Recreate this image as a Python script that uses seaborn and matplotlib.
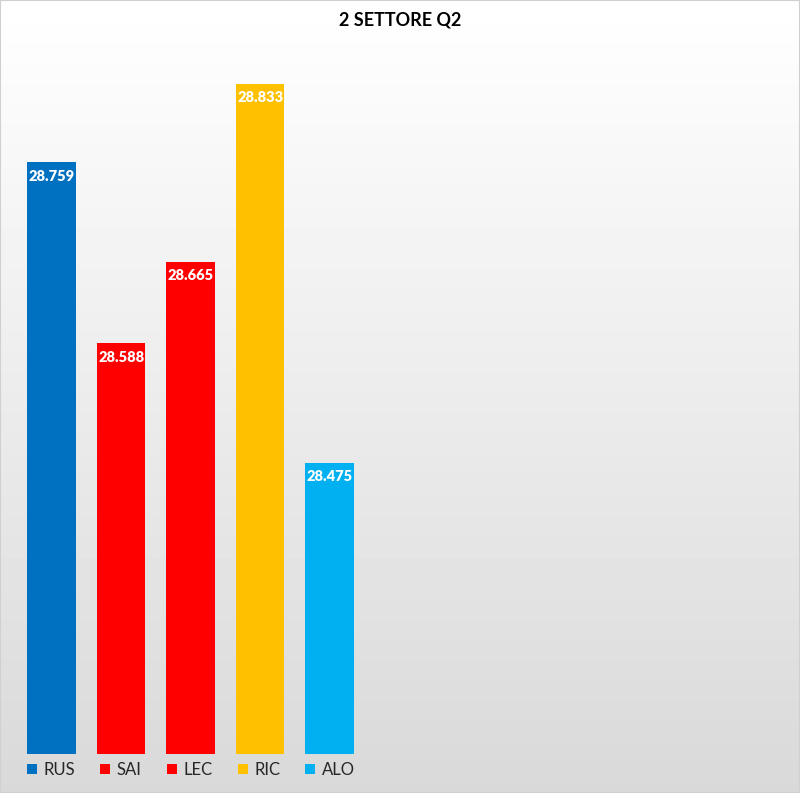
import matplotlib
matplotlib.use("Agg")
import matplotlib.pyplot as plt
import numpy as np
import pandas as pd
import seaborn as sns
from matplotlib.patches import Patch

drivers = ["RUS", "SAI", "LEC", "RIC", "ALO"]
times = [28.759, 28.588, 28.665, 28.833, 28.475]
colors = ["#0070C0", "#FF0000", "#FF0000", "#FFC000", "#00B0F0"]
title = "2 SETTORE Q2"

sns.set_theme(style="white")
plt.rcParams["font.family"] = ["Lato", "DejaVu Sans"]

df = pd.DataFrame({"driver": drivers, "time": times})

W, H = 800, 793
fig = plt.figure(figsize=(W / 100, H / 100), dpi=100)

# gradient background, white at the top to light grey at the bottom
bg = fig.add_axes([0, 0, 1, 1], zorder=-1)
grad = np.linspace(1.0, 0.85, 256).reshape(-1, 1)
bg.imshow(grad, cmap="gray", vmin=0, vmax=1, aspect="auto", extent=[0, 1, 0, 1])
bg.add_patch(plt.Rectangle((0, 0), 1, 1, fill=False, ec="#d0d0d0", lw=1.5,
                           transform=bg.transAxes))
bg.set_axis_off()

# axes in pixel coords: left 17, right 781, bottom 754, top 66
ax = fig.add_axes([17 / W, 1 - 754 / H, (781 - 17) / W, (754 - 66) / H])
ax.patch.set_alpha(0)
sns.barplot(data=df, x="driver", y="time", hue="driver", order=drivers,
            hue_order=drivers, palette=colors, width=0.7, legend=False,
            saturation=1, linewidth=0, ax=ax)
ax.set_xlim(-0.5, 10.5)
ax.set_ylim(28.2, 28.85)
ax.set_axis_off()

for i, v in enumerate(times):
    ax.annotate(f"{v:.3f}", (i, v), xytext=(0, -10), textcoords="offset points",
                ha="center", va="center", color="white", fontsize=10.5,
                fontweight="heavy")

fig.text(0.5, 1 - 20 / H, title, ha="center", va="center", fontsize=13,
         fontweight="bold", color="black")

handles = [Patch(facecolor=c, edgecolor="none") for c in colors]
fig.legend(handles, drivers, loc="center left",
           bbox_to_anchor=(27 / W, 1 - 770 / H), ncol=5, frameon=False,
           fontsize=12, handlelength=0.6, handleheight=0.6,
           handletextpad=0.4, columnspacing=1.5, borderpad=0,
           borderaxespad=0)

fig.savefig("out.png", dpi=100)
